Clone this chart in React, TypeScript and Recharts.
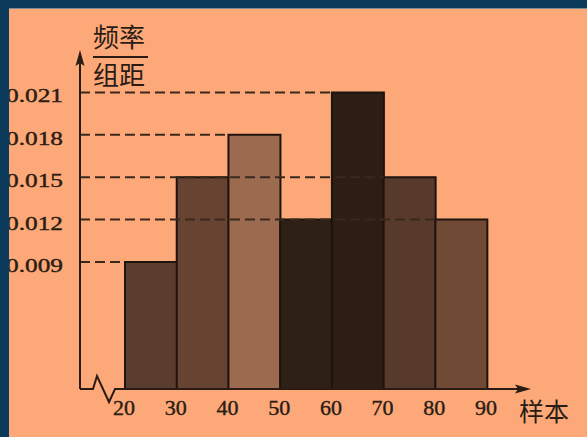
import React from "react";
import { Bar, Cell, ComposedChart, ReferenceLine, XAxis, YAxis } from "recharts";

// histogram bins (left edge of each class) and frequency / class width
const binStarts = [20, 30, 40, 50, 60, 70, 80];
const binWidth = 10;
const freqPerWidth = [0.009, 0.015, 0.018, 0.012, 0.021, 0.015, 0.012];
const xTicks = [20, 30, 40, 50, 60, 70, 80, 90];
const yTicks = [0.009, 0.012, 0.015, 0.018, 0.021];

const barColors = ["#5a3d2e", "#674431", "#9c6a4e", "#2e1f17", "#2d1d15", "#573a2b", "#714a36"];

// axis is broken before 20, so the visible range starts a little earlier
const X_MIN = 11.3;
const X_MAX = 98.3;

const INK = "#2a1c14";
const SALMON = "#fca878";
const NAVY = "#0c3a5a";

const data = binStarts.map((start, i) => ({
  mid: start + binWidth / 2,
  value: freqPerWidth[i],
}));

// dashed guide goes from the y axis to the left edge of the last bar at that height
const guides = yTicks.map((v) => {
  let idx = 0;
  freqPerWidth.forEach((f, i) => {
    if (Math.abs(f - v) < 1e-9) idx = i;
  });
  return { value: v, end: binStarts[idx] };
});

function YTick(props: any) {
  const { x, y, payload } = props;
  return (
    <text
      x={x - 17}
      y={y + 10}
      textAnchor="end"
      fontFamily="'Liberation Serif', serif"
      fontSize={19}
      fill={INK}
      stroke={INK}
      strokeWidth={0.4}
      textLength={57}
      lengthAdjust="spacingAndGlyphs"
    >
      {Number(payload.value).toFixed(3)}
    </text>
  );
}

function XTick(props: any) {
  const { x, y, payload } = props;
  return (
    <text
      x={x - 1}
      y={y + 26}
      textAnchor="middle"
      fontFamily="'Liberation Serif', serif"
      fontSize={22}
      fill={INK}
      stroke={INK}
      strokeWidth={0.4}
    >
      {payload.value}
    </text>
  );
}

export default function App() {
  return (
    <div
      style={{
        position: "fixed",
        left: 0,
        top: 0,
        width: 587,
        height: 437,
        background: SALMON,
        overflow: "hidden",
      }}
    >
      <ComposedChart
        width={587}
        height={437}
        data={data}
        margin={{ top: 50, right: 57, bottom: 18, left: 8 }}
        barCategoryGap={0}
      >
        <XAxis
          xAxisId="x"
          type="number"
          dataKey="mid"
          domain={[X_MIN, X_MAX]}
          ticks={xTicks}
          allowDataOverflow
          axisLine={false}
          tickLine={false}
          tickSize={0}
          tickMargin={0}
          height={30}
          tick={<XTick />}
          interval={0}
        />
        <YAxis
          yAxisId="y"
          type="number"
          domain={[0, 0.024]}
          ticks={yTicks}
          axisLine={false}
          tickLine={false}
          tickSize={0}
          tickMargin={0}
          width={72}
          tick={<YTick />}
          interval={0}
        />
        <Bar
          xAxisId="x"
          yAxisId="y"
          dataKey="value"
          stroke="#1e130d"
          strokeWidth={2}
          isAnimationActive={false}
        >
          {data.map((d, i) => (
            <Cell key={d.mid} fill={barColors[i]} />
          ))}
        </Bar>
        {guides.map((g) => (
          <ReferenceLine
            key={g.value}
            xAxisId="x"
            yAxisId="y"
            segment={[
              { x: X_MIN, y: g.value },
              { x: g.end, y: g.value },
            ]}
            stroke="#3a281d"
            strokeWidth={2}
            strokeDasharray="10 5"
            ifOverflow="visible"
          />
        ))}
      </ComposedChart>

      {/* axes with arrows, axis break and axis titles */}
      <svg
        width={587}
        height={437}
        style={{ position: "absolute", left: 0, top: 0, pointerEvents: "none" }}
      >
        <line x1={80} y1={389} x2={80} y2={60} stroke={INK} strokeWidth={2} />
        <path d="M80 50 L75.5 66 L80 63 L84.5 66 Z" fill={INK} />
        <polyline
          points="80,389 93,389 97,376 109,402 115,389 522,389"
          fill="none"
          stroke={INK}
          strokeWidth={2}
          strokeLinejoin="miter"
        />
        <path d="M531 389 L515 384.5 L518 389 L515 393.5 Z" fill={INK} />
        <g fontFamily="'Noto Sans CJK SC', sans-serif" fontSize={26} fill={INK}>
          <text x={93} y={47}>频率</text>
          <text x={93} y={85}>组距</text>
          <text x={519} y={421} fontSize={25}>样本</text>
        </g>
        <line x1={93} y1={57} x2={148} y2={57} stroke={INK} strokeWidth={2} />
      </svg>

      <div style={{ position: "absolute", left: 0, top: 0, width: 587, height: 8, background: NAVY }} />
      <div style={{ position: "absolute", left: 0, top: 8, width: 587, height: 1, background: "#7d8c92" }} />
      <div style={{ position: "absolute", left: 0, top: 0, width: 9, height: 437, background: NAVY }} />
    </div>
  );
}
